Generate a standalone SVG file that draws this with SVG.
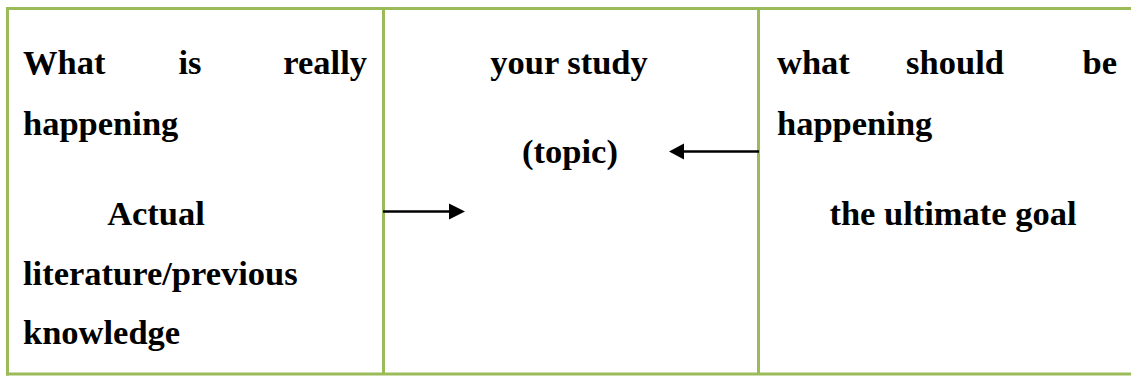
<svg xmlns="http://www.w3.org/2000/svg" width="1131" height="377" viewBox="0 0 1131 377">
<style>
.b{stroke:#9BBB59;stroke-width:3;fill:none}
.t{font-family:'Liberation Serif','Times New Roman',serif;font-weight:700;font-size:34.5px;fill:#000}
.m{text-anchor:middle}
.e{text-anchor:end}
.c{stroke:#000;stroke-width:2.5}
</style>
<rect width="1131" height="377" fill="#fff"/>
<g id="table">
<line class="b" x1="6" y1="8.5" x2="1131" y2="8.5"/>
<line class="b" x1="6" y1="374" x2="1131" y2="374"/>
<line class="b" x1="7.5" y1="7" x2="7.5" y2="375.5"/>
<line class="b" x1="383.5" y1="8.5" x2="383.5" y2="374"/>
<line class="b" x1="758.5" y1="8.5" x2="758.5" y2="374"/>
</g>
<g id="node-actual">
<text class="t" x="23" y="74">What</text>
<text class="t m" x="190" y="74">is</text>
<text class="t e" x="367" y="74">really</text>
<text class="t" x="23" y="135">happening</text>
<text class="t m" x="156" y="225">Actual</text>
<text class="t" x="23" y="285">literature/previous</text>
<text class="t" x="23" y="344">knowledge</text>
</g>
<g id="node-study">
<text class="t m" x="569" y="74">your study</text>
<text class="t m" x="570" y="163">(topic)</text>
</g>
<g id="node-goal">
<text class="t" x="777" y="74">what</text>
<text class="t m" x="955" y="74">should</text>
<text class="t e" x="1117" y="74">be</text>
<text class="t" x="777" y="135">happening</text>
<text class="t m" x="953" y="225">the ultimate goal</text>
</g>
<g id="connectors">
<line class="c" x1="383" y1="211.5" x2="451" y2="211.5"/>
<polygon points="449,203.5 465,211.5 449,219.5"/>
<line class="c" x1="759" y1="151.5" x2="682" y2="151.5"/>
<polygon points="684,143.5 669,151.5 684,159.5"/>
</g>
</svg>
